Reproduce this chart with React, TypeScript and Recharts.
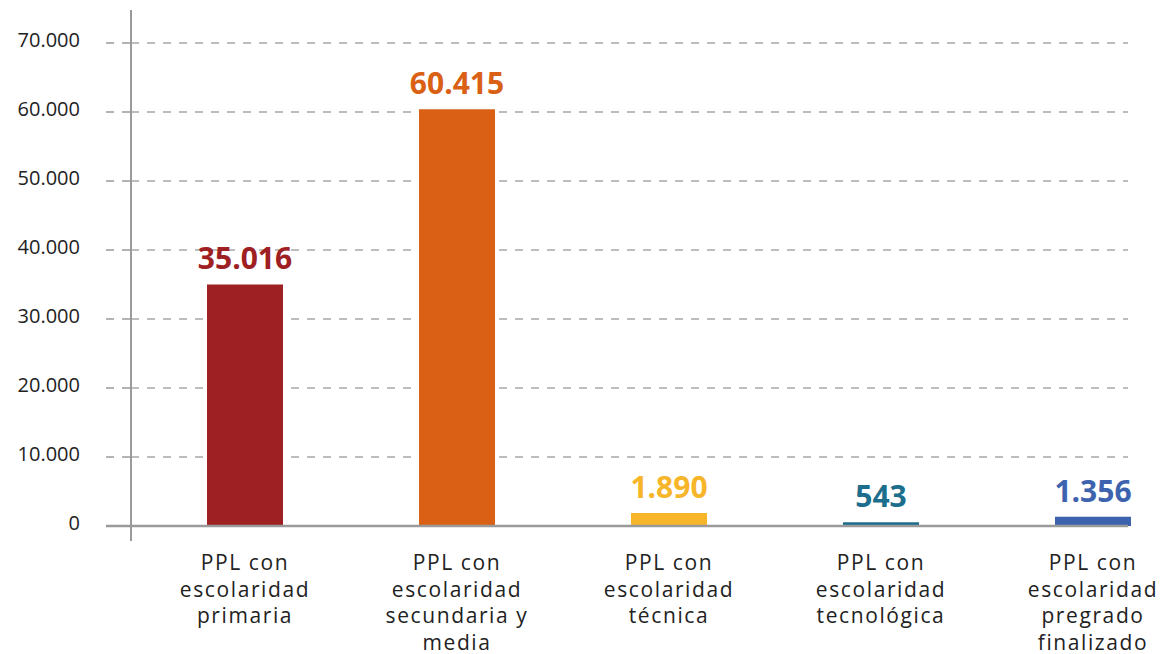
import { BarChart, Bar, XAxis, YAxis, CartesianGrid, Cell, ReferenceLine } from 'recharts';

const categories = [
  'PPL con\nescolaridad\nprimaria',
  'PPL con\nescolaridad\nsecundaria y\nmedia',
  'PPL con\nescolaridad\ntécnica',
  'PPL con\nescolaridad\ntecnológica',
  'PPL con\nescolaridad\npregrado\nfinalizado',
];
const values = [35016, 60415, 1890, 543, 1356];
const barColors = ['#9E2022', '#D96014', '#F7B52A', '#1C6E8C', '#3D63AE'];
const yTicks = [0, 10000, 20000, 30000, 40000, 50000, 60000, 70000];

const data = categories.map((name, i) => ({ name, value: values[i] }));

const FONT = '"Open Sans", sans-serif';
const fmt = (v: number) => v.toString().replace(/\B(?=(\d{3})+(?!\d))/g, '.');

// y ticks: label + a short tick stub (dashed like the grid, solid at 0)
const YTick = ({ x, y, payload }: any) => (
  <g>
    <line
      x1={x + 26}
      x2={x + 51}
      y1={y}
      y2={y}
      stroke="#9a9a9a"
      strokeWidth={payload.value === 0 ? 2.5 : 1.6}
      strokeDasharray={payload.value === 0 ? undefined : '8 8'}
    />
    <text x={x} y={y} dy={4} textAnchor="end" fill="#222" fontSize={20} fontFamily={FONT}>
      {fmt(payload.value)}
    </text>
  </g>
);

const XTick = ({ x, y, payload }: any) => {
  const lines = String(payload.value).split('\n');
  return (
    <text x={x} y={y} textAnchor="middle" fill="#222" fontSize={21} fontFamily={FONT} letterSpacing={1.6}>
      {lines.map((l, i) => (
        <tspan key={i} x={x} dy={i === 0 ? 21 : 26.5}>
          {l}
        </tspan>
      ))}
    </text>
  );
};

const ValueLabel = ({ x, y, width, value, index }: any) => (
  <text
    x={x + width / 2}
    y={y - 15}
    textAnchor="middle"
    fill={barColors[index]}
    fontSize={30}
    fontWeight={700}
    fontFamily={FONT}
  >
    {fmt(value)}
  </text>
);

export default function App() {
  return (
    <div style={{ position: 'absolute', left: 0, top: 0, width: 1162, height: 654, background: '#fff' }}>
      <BarChart
        width={1162}
        height={654}
        data={data}
        margin={{ top: 10, right: 34, bottom: 0, left: 0 }}
        barSize={76}
      >
        <CartesianGrid
          vertical={false}
          syncWithTicks
          stroke="#a8a8a8"
          strokeWidth={1.6}
          strokeDasharray="8 8"
        />
        <XAxis
          dataKey="name"
          height={113}
          axisLine={false}
          tickLine={false}
          interval={0}
          padding={{ left: 8, right: -71 }}
          tick={<XTick />}
        />
        <YAxis
          width={131}
          domain={[0, 70000]}
          ticks={yTicks}
          padding={{ top: 33, bottom: 15 }}
          axisLine={{ stroke: '#9a9a9a', strokeWidth: 2 }}
          tickLine={false}
          tickSize={25}
          tickMargin={26}
          tick={<YTick />}
        />
        <ReferenceLine y={0} stroke="#9a9a9a" strokeWidth={2.5} />
        <Bar dataKey="value" isAnimationActive={false} label={<ValueLabel />}>
          {data.map((d, i) => (
            <Cell key={d.name} fill={barColors[i]} />
          ))}
        </Bar>
      </BarChart>
    </div>
  );
}
